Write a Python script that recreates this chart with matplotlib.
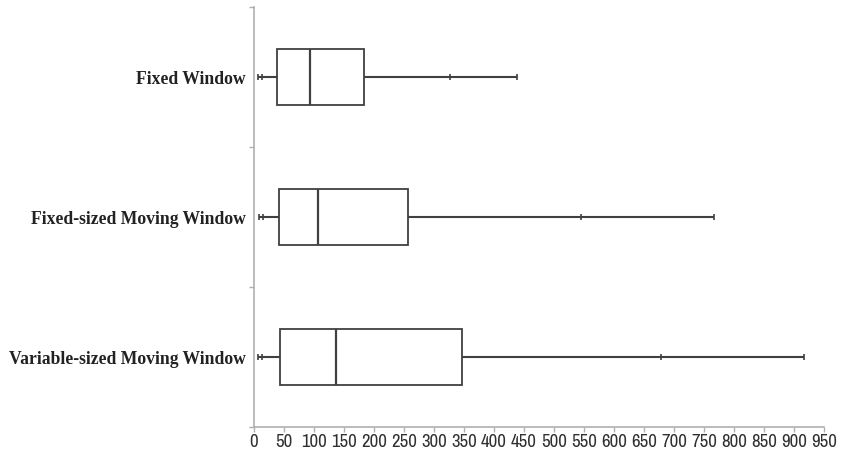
#!/usr/bin/env python3
# -*- coding:utf-8 -*-

import numpy as np
import matplotlib
matplotlib.use("Agg")
import matplotlib.pyplot as plt

# categories, top to bottom
labels = ["Fixed Window", "Fixed-sized Moving Window", "Variable-sized Moving Window"]
# whisker / box statistics
mins = [7, 8, 6]
lows = [14, 15, 13]
q1 = [39, 41, 43]
medians = [93, 107, 136]
q3 = [184, 257, 347]
highs = [326, 545, 678]
maxs = [438, 767, 917]
xticks = list(range(0, 951, 50))

edge = '#404040'
axis_col = '#b0b0b0'

fig = plt.figure(figsize=(8.45, 4.51), dpi=100)
ax = fig.add_axes([254/845, 24/451, 570/845, 420/451])

ypos = np.arange(len(labels))[::-1] + 1  # top category at the top
box_h = 0.405
cap_h = 0.045

# whiskers
ax.hlines(ypos, mins, q1, color=edge, lw=1.5, zorder=1)
ax.hlines(ypos, q3, maxs, color=edge, lw=1.5, zorder=1)
# caps and intermediate marks
for vals in (mins, lows, highs, maxs):
    ax.vlines(vals, ypos - cap_h/2, ypos + cap_h/2, color=edge, lw=1.2, zorder=2)
# boxes
ax.barh(ypos, np.array(q3) - np.array(q1), left=q1, height=box_h,
        facecolor='white', edgecolor=edge, lw=1.3, zorder=3)
# medians
ax.vlines(medians, ypos - box_h/2, ypos + box_h/2, color=edge, lw=1.6, zorder=4)

ax.set_xlim(0, 950)
ax.set_ylim(0.5, 0.5 + len(labels))
ax.set_xticks(xticks)
ax.set_xticklabels([str(v) for v in xticks], family=['Archivo Narrow', 'Liberation Sans'],
                   fontsize=13.5, color='#303030')
ax.tick_params(axis='x', length=3.5, width=1, color=axis_col, pad=1.5)

ax.set_yticks(ypos)
ax.set_yticklabels(labels, family='Liberation Serif', fontweight='bold', fontsize=12.7, color='#222222')
ax.tick_params(axis='y', which='major', length=0, pad=6)
ax.set_yticks(np.arange(0.5, len(labels) + 0.6, 1), minor=True)
ax.tick_params(axis='y', which='minor', length=3.5, width=1, color=axis_col)

for s in ('top', 'right'):
    ax.spines[s].set_visible(False)
for s in ('left', 'bottom'):
    ax.spines[s].set_color(axis_col)
    ax.spines[s].set_linewidth(1.2)

fig.savefig("out.png", dpi=100)
